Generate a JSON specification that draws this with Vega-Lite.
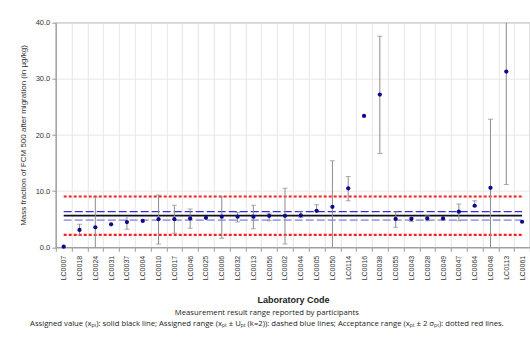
{
  "$schema": "https://vega.github.io/schema/vega-lite/v6.json",
  "width": 474.2,
  "height": 224.6,
  "autosize": {"type": "none"},
  "padding": {"left": 55.8, "top": 22.7, "right": 0, "bottom": 91.7},
  "background": "white",
  "config": {
    "font": "Liberation Sans",
    "view": {"stroke": "#9a9a9a", "strokeWidth": 1.2},
    "axis": {"labelFont": "Liberation Sans", "titleFont": "Liberation Sans"}
  },
  "title": {
    "text": ["Measurement result range reported by participants", "Assigned value (xₚₜ): solid black line; Assigned range (xₚₜ ± Uₚₜ (k=2)): dashed blue lines;  Acceptance range (xₚₜ ± 2 σₚₜ): dotted red lines."],
    "orient": "bottom",
    "anchor": "middle",
    "frame": "group",
    "dx": -26,
    "offset": 4,
    "fontSize": 7.7,
    "fontWeight": "normal",
    "font": "Open Sans",
    "color": "#222",
    "lineHeight": 11
  },
  "datasets": {
    "results": [
      {"lab": "LC0007", "value": 0.1, "lo": null, "hi": null},
      {"lab": "LC0018", "value": 3.1, "lo": 2.2, "hi": 4.1},
      {"lab": "LC0024", "value": 3.55, "lo": -2, "hi": 8.9},
      {"lab": "LC0031", "value": 4.1, "lo": null, "hi": null},
      {"lab": "LC0037", "value": 4.5, "lo": 3.2, "hi": 5.45},
      {"lab": "LC0004", "value": 4.7, "lo": null, "hi": null},
      {"lab": "LC0010", "value": 5.0, "lo": 0.6, "hi": 9.3},
      {"lab": "LC0017", "value": 5.0, "lo": 2.5, "hi": 7.5},
      {"lab": "LC0046", "value": 5.15, "lo": 3.4, "hi": 6.8},
      {"lab": "LC0025", "value": 5.25, "lo": null, "hi": null},
      {"lab": "LC0006", "value": 5.45, "lo": 1.6, "hi": 9.0},
      {"lab": "LC0032", "value": 5.45, "lo": 4.5, "hi": 6.2},
      {"lab": "LC0013", "value": 5.45, "lo": 3.3, "hi": 7.5},
      {"lab": "LC0056", "value": 5.6, "lo": 4.75, "hi": 6.05},
      {"lab": "LC0002", "value": 5.6, "lo": 0.6, "hi": 10.5},
      {"lab": "LC0044", "value": 5.7, "lo": 5.3, "hi": 6.4},
      {"lab": "LC0005", "value": 6.5, "lo": 6.5, "hi": 7.6},
      {"lab": "LC0050", "value": 7.2, "lo": -2, "hi": 15.4},
      {"lab": "LC0114", "value": 10.5, "lo": 8.3, "hi": 12.6},
      {"lab": "LC0016", "value": 23.4, "lo": null, "hi": null},
      {"lab": "LC0038", "value": 27.2, "lo": 16.7, "hi": 37.6},
      {"lab": "LC0055", "value": 5.05, "lo": 3.55, "hi": 6.35},
      {"lab": "LC0043", "value": 5.05, "lo": 4.6, "hi": 5.35},
      {"lab": "LC0028", "value": 5.15, "lo": 4.75, "hi": 5.6},
      {"lab": "LC0049", "value": 5.15, "lo": 4.9, "hi": 5.5},
      {"lab": "LC0047", "value": 6.35, "lo": 4.75, "hi": 7.7},
      {"lab": "LC0064", "value": 7.4, "lo": 7.35, "hi": 8.3},
      {"lab": "LC0048", "value": 10.6, "lo": -2, "hi": 22.8},
      {"lab": "LC0113", "value": 31.3, "lo": 11.2, "hi": 50},
      {"lab": "LC0061", "value": 4.55, "lo": null, "hi": null}
    ],
    "limits": [
      {"kind": "accUpper", "start": "LC0007", "end": "LC0061", "y": 9.05},
      {"kind": "accLower", "start": "LC0007", "end": "LC0061", "y": 2.2},
      {"kind": "assignedUpper", "start": "LC0007", "end": "LC0061", "y": 6.35},
      {"kind": "assignedLower", "start": "LC0007", "end": "LC0061", "y": 4.85},
      {"kind": "assigned", "start": "LC0007", "end": "LC0061", "y": 5.65}
    ]
  },
  "layer": [
    {
      "data": {"name": "results"},
      "mark": {"type": "point", "opacity": 0},
      "encoding": {
        "x": {
          "field": "lab", "type": "nominal", "sort": null,
          "scale": {"type": "band", "paddingInner": 0, "paddingOuter": 0},
          "axis": {
            "title": "Laboratory Code",
            "titleFontSize": 9, "titleFontWeight": "bold", "titleColor": "#222",
            "titlePadding": 16,
            "labelAngle": 270, "labelFontSize": 7, "labelColor": "#333",
            "labelPadding": 4,
            "tickBand": "extent",
            "grid": true, "gridColor": "#e6e6e6",
            "domainColor": "#999", "tickColor": "#999", "tickSize": 4
          }
        },
        "y": {
          "field": "value", "type": "quantitative",
          "scale": {"domain": [0, 40], "nice": false},
          "axis": {
            "title": "Mass fraction of FCM 500 after migration (in µg/kg)",
            "titleFontSize": 8, "titleFontWeight": "normal", "titleColor": "#333",
            "titlePadding": 8,
            "values": [0, 5, 10, 15, 20, 25, 30, 35, 40],
            "format": ".1f",
            "labelFontSize": 7.5, "labelColor": "#333",
            "grid": true, "gridColor": "#e6e6e6",
            "domainColor": "#999", "tickColor": "#999", "tickSize": 4
          }
        }
      }
    },
    {
      "data": {"name": "limits"},
      "transform": [{"filter": "datum.kind == 'accUpper' || datum.kind == 'accLower'"}],
      "mark": {"type": "rule", "color": "#ff2020", "strokeWidth": 2.2, "strokeDash": [3, 2]},
      "encoding": {
        "x": {"field": "start", "type": "nominal", "sort": null, "bandPosition": 0.5},
        "x2": {"field": "end", "bandPosition": 0.5},
        "y": {"field": "y", "type": "quantitative"}
      }
    },
    {
      "data": {"name": "limits"},
      "transform": [{"filter": "datum.kind == 'assignedUpper'"}],
      "mark": {"type": "rule", "color": "#2f2fe0", "strokeWidth": 1.2, "strokeDash": [8, 3]},
      "encoding": {
        "x": {"field": "start", "type": "nominal", "sort": null, "bandPosition": 0.5},
        "x2": {"field": "end", "bandPosition": 0.5},
        "y": {"field": "y", "type": "quantitative"}
      }
    },
    {
      "data": {"name": "limits"},
      "transform": [{"filter": "datum.kind == 'assignedLower'"}],
      "mark": {"type": "rule", "color": "#a0a0f2", "strokeWidth": 1.8, "strokeDash": [8, 3]},
      "encoding": {
        "x": {"field": "start", "type": "nominal", "sort": null, "bandPosition": 0.5},
        "x2": {"field": "end", "bandPosition": 0.5},
        "y": {"field": "y", "type": "quantitative"}
      }
    },
    {
      "data": {"name": "limits"},
      "transform": [{"filter": "datum.kind == 'assigned'"}],
      "mark": {"type": "rule", "color": "#111111", "strokeWidth": 1.6},
      "encoding": {
        "x": {"field": "start", "type": "nominal", "sort": null, "bandPosition": 0.5},
        "x2": {"field": "end", "bandPosition": 0.5},
        "y": {"field": "y", "type": "quantitative"}
      }
    },
    {
      "data": {"name": "results"},
      "transform": [{"filter": "datum.lo != null"}],
      "mark": {"type": "rule", "color": "#8c8c8c", "strokeWidth": 1, "clip": true},
      "encoding": {
        "x": {"field": "lab", "type": "nominal", "sort": null, "bandPosition": 0.5},
        "y": {"field": "lo", "type": "quantitative"},
        "y2": {"field": "hi"}
      }
    },
    {
      "data": {"name": "results"},
      "transform": [{"filter": "datum.lo != null && datum.lo >= 0"}],
      "mark": {"type": "tick", "color": "#8c8c8c", "thickness": 1, "size": 5, "orient": "horizontal", "clip": true},
      "encoding": {
        "x": {"field": "lab", "type": "nominal", "sort": null, "bandPosition": 0.5},
        "y": {"field": "lo", "type": "quantitative"}
      }
    },
    {
      "data": {"name": "results"},
      "transform": [{"filter": "datum.hi != null && datum.hi <= 40"}],
      "mark": {"type": "tick", "color": "#8c8c8c", "thickness": 1, "size": 5, "orient": "horizontal", "clip": true},
      "encoding": {
        "x": {"field": "lab", "type": "nominal", "sort": null, "bandPosition": 0.5},
        "y": {"field": "hi", "type": "quantitative"}
      }
    },
    {
      "data": {"name": "results"},
      "mark": {"type": "circle", "color": "#0a0a8c", "opacity": 1, "size": 18},
      "encoding": {
        "x": {"field": "lab", "type": "nominal", "sort": null, "bandPosition": 0.5},
        "y": {"field": "value", "type": "quantitative"}
      }
    }
  ]
}
